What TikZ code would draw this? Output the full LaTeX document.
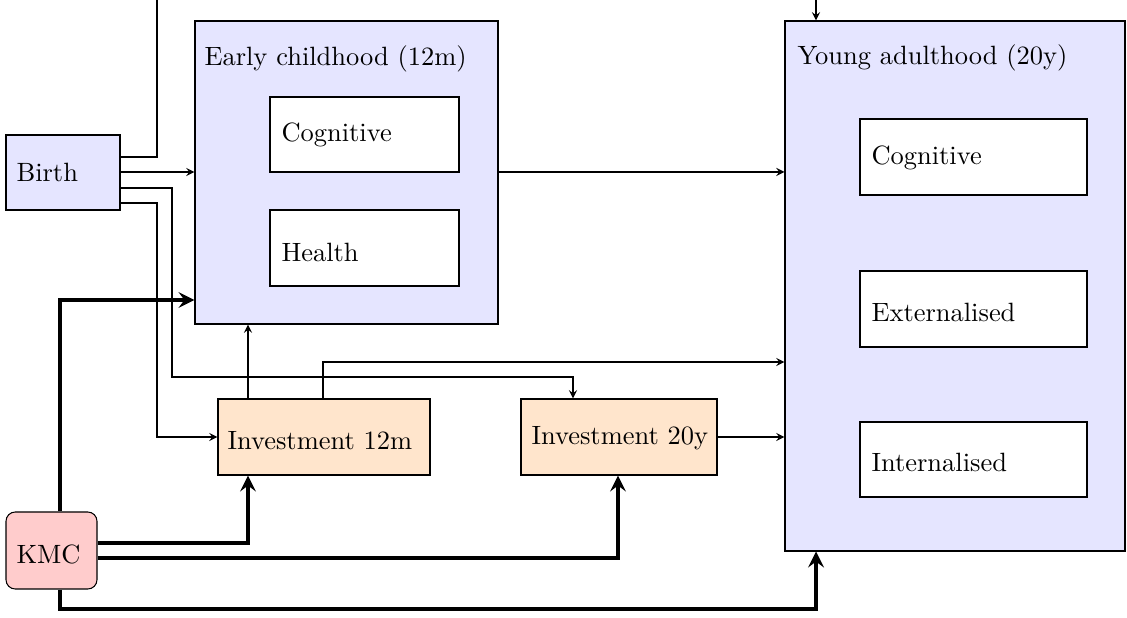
\documentclass[tikz,border=0pt]{standalone}
\usetikzlibrary{fit,calc}
\begin{document}
\begin{tikzpicture}[x=0.378pt,y=-0.378pt,>=stealth,
  area/.style={draw, fill=blue!10, inner sep=0pt},
  invbox/.style={draw, fill=orange!20, inner sep=0pt},
  kmcbox/.style={draw, fill=red!20, inner sep=0pt, rounded corners=3.5pt},
  subbox/.style={draw, fill=white, inner sep=0pt},
  lab/.style={anchor=base west, inner sep=0pt},
  conn/.style={->},
  kconn/.style={->, ultra thick}]
\useasboundingbox (0,0) rectangle (1127,618);
\clip (0,0) rectangle (1127,618);

% boxes
\node[area, fit={(195,21) (498,324)}] (ec) {};
\node[subbox, fit={(270,97) (459,172)}] (ecc) {};
\node[subbox, fit={(270,210) (459,286)}] (ech) {};
\node[area, fit={(785,21) (1125,551)}] (ya) {};
\node[subbox, fit={(860,119) (1087,195)}] (yac) {};
\node[subbox, fit={(860,271) (1087,347)}] (yae) {};
\node[subbox, fit={(860,422) (1087,497)}] (yai) {};
\node[area, fit={(6,135) (120,210)}] (birth) {};
\node[invbox, fit={(218,399) (430,475)}] (inv12) {};
\node[invbox, fit={(521,399) (717,475)}] (inv20) {};
\node[kmcbox, fit={(6,512) (97,589)}] (kmc) {};

% labels
\node[lab] (ecl) at (204,66) {Early childhood (12m)};
\node[lab] (eccl) at (281,141.5) {Cognitive};
\node[lab] (echl) at (281,262) {Health};
\node[lab] (yal) at (797,65) {Young adulthood (20y)};
\node[lab] (yacl) at (871,165) {Cognitive};
\node[lab] (yael) at (871,322) {Externalised};
\node[lab] (yail) at (871,472) {Internalised};
\node[lab] (birthl) at (16,182) {Birth};
\node[lab] (inv12l) at (227,450) {Investment 12m};
\node[lab] (inv20l) at (531,445) {Investment 20y};
\node[lab] (kmcl) at (16,564) {KMC};

% thin connectors
\draw[conn] (birth.east |- 0,157) -| (157,-20) -| (ya.north -| 816,0);
\draw[conn] (birth.east |- 0,172) -- (ec.west |- 0,172);
\draw[conn] (birth.east |- 0,188) -| (172,377) -| (inv20.north -| 573,0);
\draw[conn] (birth.east |- 0,203) -| (157,437) -- (inv12.west);
\draw[conn] (inv12.north -| 248,0) -- (ec.south -| 248,0);
\draw[conn] (inv12.north -| 323,0) |- (ya.west |- 0,362);
\draw[conn] (ec.east |- 0,172) -- (ya.west |- 0,172);
\draw[conn] (inv20.east) -- (ya.west |- inv20.east);

% thick connectors from KMC
\draw[kconn] (kmc.north -| 60,0) |- (ec.west |- 0,300);
\draw[kconn] (kmc.east |- 0,543) -| (inv12.south -| 248,0);
\draw[kconn] (kmc.east |- 0,558) -| (inv20.south -| 618,0);
\draw[kconn] (kmc.south -| 60,0) -- (60,609) -| (ya.south -| 816,0);
\end{tikzpicture}
\end{document}
